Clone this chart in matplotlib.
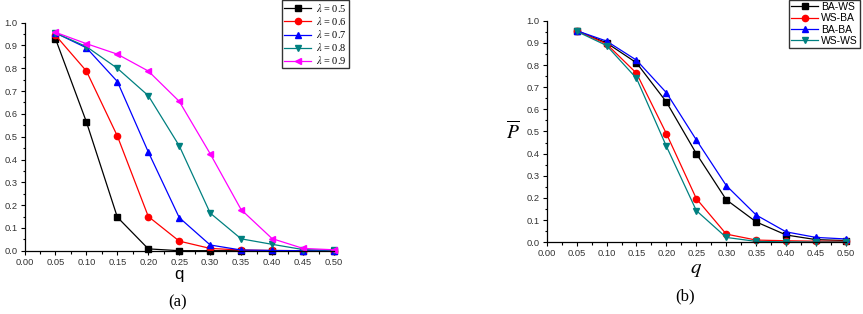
import matplotlib
matplotlib.use("Agg")
import matplotlib.pyplot as plt
from matplotlib.ticker import MultipleLocator
import numpy as np

plt.rcParams['font.family'] = ['Liberation Sans', 'DejaVu Sans']
plt.rcParams['mathtext.fontset'] = 'stix'

q = [0.05, 0.10, 0.15, 0.20, 0.25, 0.30, 0.35, 0.40, 0.45, 0.50]

# Panel (a)
lam_labels = ['0.5', '0.6', '0.7', '0.8', '0.9']
lam05 = [0.93, 0.565, 0.147, 0.008, 0.0, 0.0, 0.0, 0.0, 0.0, 0.0]
lam06 = [0.945, 0.788, 0.503, 0.150, 0.042, 0.010, 0.003, 0.001, 0.0, 0.0]
lam07 = [0.955, 0.890, 0.742, 0.433, 0.145, 0.025, 0.003, 0.001, 0.0, 0.0]
lam08 = [0.955, 0.895, 0.800, 0.680, 0.460, 0.165, 0.052, 0.028, 0.005, 0.002]
lam09 = [0.958, 0.908, 0.862, 0.788, 0.655, 0.425, 0.180, 0.053, 0.010, 0.004]

# Panel (b)
net_labels = ['BA-WS', 'WS-BA', 'BA-BA', 'WS-WS']
ba_ws = [0.955, 0.900, 0.810, 0.633, 0.400, 0.192, 0.092, 0.033, 0.012, 0.008]
ws_ba = [0.955, 0.895, 0.763, 0.490, 0.197, 0.037, 0.010, 0.007, 0.005, 0.005]
ba_ba = [0.955, 0.908, 0.822, 0.675, 0.462, 0.256, 0.123, 0.047, 0.022, 0.015]
ws_ws = [0.952, 0.888, 0.740, 0.433, 0.143, 0.022, 0.004, 0.002, 0.001, 0.001]

colors = ['black', 'red', 'blue', '#008080', '#FF00FF']
markers = ['s', 'o', '^', 'v', '<']

W, H = 863, 314
fig = plt.figure(figsize=(W / 100, H / 100), dpi=100)

def ax_from_px(l, r, t, b):
    return fig.add_axes([l / W, 1 - b / H, (r - l) / W, (b - t) / H])

def style(ax):
    ax.set_xlim(0, 0.5)
    ax.set_ylim(0, 1.0)
    ax.spines['top'].set_visible(False)
    ax.spines['right'].set_visible(False)
    ax.xaxis.set_major_locator(MultipleLocator(0.05))
    ax.xaxis.set_minor_locator(MultipleLocator(0.025))
    ax.yaxis.set_major_locator(MultipleLocator(0.1))
    ax.yaxis.set_minor_locator(MultipleLocator(0.05))
    ax.set_xticklabels([f'{v:.2f}' for v in ax.get_xticks()])
    ax.set_yticklabels([f'{v:.1f}' for v in ax.get_yticks()])
    ax.tick_params(which='major', direction='out', length=3, width=0.8, labelsize=6.7, pad=2)
    ax.tick_params(which='minor', direction='out', length=1.8, width=0.8)
    for s in ('left', 'bottom'):
        ax.spines[s].set_linewidth(0.9)
    for lab in ax.get_xticklabels() + ax.get_yticklabels():
        lab.set_color('#333333')

# (a)
axa = ax_from_px(24.5, 334, 22.7, 250.7)
series_a = [lam05, lam06, lam07, lam08, lam09]
handles_a = []
for y, c, m, lab in zip(series_a, colors, markers, lam_labels):
    h, = axa.plot(q, y, color=c, marker=m, markersize=4.5, linewidth=0.9,
                  label=r'$\lambda$ = ' + lab, clip_on=False)
    handles_a.append(h)
style(axa)
axa.set_xlabel('q', fontsize=12, labelpad=0)
fig.text(178 / W, 1 - 302 / H, '(a)', family='Liberation Serif', fontsize=12,
         ha='center', va='center')
leg_a = fig.legend(handles=handles_a, loc='upper right', bbox_to_anchor=(349 / W, 1.0),
                   prop={'family': 'Liberation Serif', 'size': 7.5}, frameon=True,
                   fancybox=False, edgecolor='black', borderpad=0.2, labelspacing=0.1,
                   handlelength=2.6, handletextpad=0.5, borderaxespad=0)
leg_a.get_frame().set_linewidth(1.0)

# (b)
axb = ax_from_px(546.7, 846, 20.7, 242.3)
series_b = [ba_ws, ws_ba, ba_ba, ws_ws]
handles_b = []
for y, c, m, lab in zip(series_b, colors[:4], markers[:4], net_labels):
    h, = axb.plot(q, y, color=c, marker=m, markersize=4.5, linewidth=0.9,
                  label=lab, clip_on=False)
    handles_b.append(h)
style(axb)
axb.set_xlabel(r'$q$', fontsize=15, labelpad=1)
axb.set_ylabel(r'$\overline{P}$', fontsize=14, rotation=0, labelpad=10, va='center')
fig.text(685 / W, 1 - 296 / H, '(b)', family='Liberation Serif', fontsize=12,
         ha='center', va='center')
leg_b = fig.legend(handles=handles_b, loc='upper right', bbox_to_anchor=(860 / W, 1.0),
                   prop={'family': 'Liberation Sans', 'size': 7.5}, frameon=True,
                   fancybox=False, edgecolor='black', borderpad=0.2, labelspacing=0.12,
                   handlelength=2.6, handletextpad=0.3, borderaxespad=0)
leg_b.get_frame().set_linewidth(1.0)

fig.savefig('out.png', dpi=100)
